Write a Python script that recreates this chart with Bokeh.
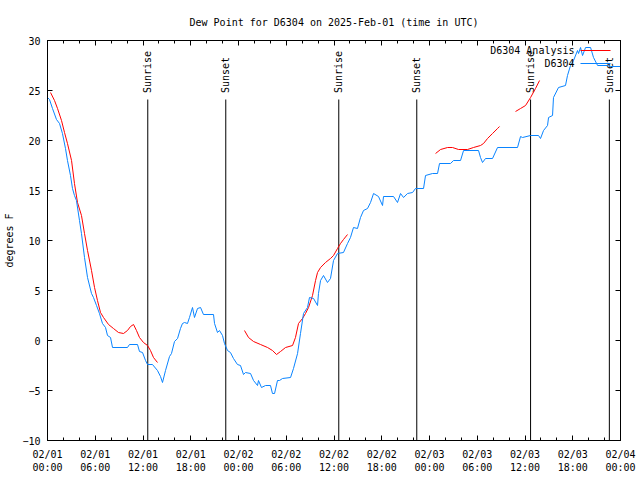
import numpy as np
from bokeh.plotting import figure
from bokeh.models import (Range1d, LinearAxis, FixedTicker, CustomJSTickFormatter,
                          Label, Arrow)
from bokeh.core.properties import value
from bokeh.embed import file_html
from bokeh.resources import INLINE

FONT = "DejaVu Sans Mono"
FS = "10px"

# ---- data (hours since 2025-02-01 00:00 UTC, degrees F) ----
obs_hours = [0.0, 0.25, 0.63, 1.13, 1.51, 1.88, 2.26, 2.51, 2.89, 3.14, 3.39, 3.64, 4.02, 4.27,
             4.65, 5.03, 5.53, 5.78, 6.16, 6.53, 6.91, 7.29, 7.54, 7.92, 8.17, 10.05, 10.30,
             11.31, 11.56, 11.94, 12.32, 12.57, 13.19, 13.82, 14.20, 14.45, 14.83, 15.33,
             15.58, 15.96, 16.34, 16.71, 16.96, 17.22, 17.59, 17.84, 18.22, 18.47, 18.85,
             19.23, 19.60, 20.86, 20.99, 21.36, 21.61, 21.99, 22.24, 22.62, 22.99, 23.37,
             23.87, 24.25, 24.63, 24.88, 25.51, 25.89, 26.39, 26.51, 26.89, 27.40, 28.02,
             28.27, 28.53, 28.90, 29.15, 29.53, 30.54, 30.91, 31.42, 31.79, 32.17, 32.67,
             32.92, 33.43, 33.93, 34.05, 34.31, 34.68, 35.18, 35.56, 35.94, 36.44, 37.19,
             37.70, 38.07, 38.45, 38.95, 39.33, 39.71, 40.21, 40.59, 40.97, 41.59, 42.10,
             42.22, 43.48, 43.98, 44.36, 44.74, 45.24, 45.87, 46.24, 47.25, 47.50, 48.38,
             49.01, 49.26, 50.64, 51.02, 51.90, 52.28, 54.16, 54.41, 54.66, 55.04, 55.92,
             56.55, 59.06, 59.44, 59.69, 60.70, 61.70, 61.95, 62.33, 62.83, 62.96, 63.46,
             63.58, 64.21, 65.09, 65.34, 65.72, 66.10, 66.60, 66.73, 66.98, 67.23, 67.61,
             68.24, 68.61, 69.12, 70.37, 70.75, 72.0]
obs_dewpt = [24.3, 24.1, 23.2, 22.1, 21.7, 20.7, 19.2, 18.0, 16.5, 15.2, 14.5, 14.0, 12.0, 10.7,
             8.3, 6.3, 4.7, 4.3, 3.5, 2.7, 1.7, 1.3, 0.5, 0.3, -0.7, -0.7, -0.4,
             -0.4, -1.1, -1.2, -2.0, -2.4, -2.4, -3.0, -3.6, -4.2, -3.0, -1.6,
             -1.3, -0.1, 0.2, 1.2, 1.7, 1.8, 1.7, 2.3, 3.3, 2.3, 3.2,
             3.3, 2.6, 2.6, 1.7, 0.8, 1.0, 0.5, -0.3, -1.0, -1.2, -1.8,
             -2.4, -2.5, -3.4, -3.2, -3.3, -4.0, -4.5, -4.0, -4.7, -4.5, -4.5,
             -5.3, -5.3, -4.0, -4.0, -3.8, -3.7, -2.8, -1.3, 0.7, 2.7, 3.3,
             4.3, 4.2, 3.5, 4.7, 6.0, 6.5, 5.8, 6.2, 8.0, 8.7, 8.8,
             9.7, 10.3, 11.3, 11.2, 12.3, 13.0, 13.2, 13.8, 14.7, 14.4, 13.5,
             14.4, 14.4, 13.8, 14.7, 14.3, 14.7, 14.8, 15.2, 15.2, 16.5, 16.7,
             16.7, 17.7, 17.7, 18.0, 18.0, 19.0, 19.0, 18.3, 17.8, 18.2, 18.2,
             19.3, 19.3, 20.4, 20.3, 20.5, 20.5, 20.2, 21.0, 21.5, 22.3, 22.5,
             24.3, 25.3, 25.5, 26.5, 27.5, 28.0, 29.0, 28.7, 29.3, 28.5, 29.3,
             29.3, 28.3, 27.5, 27.5, 27.4, 27.4]

nan = float("nan")
ana_hours = [0.38, 0.88, 1.26, 1.76, 2.14, 2.51, 3.02, 3.39, 3.77, 4.27, 4.65, 5.03, 5.53, 5.91,
             6.28, 6.66, 7.04, 7.67, 8.29, 8.92, 9.55, 10.05, 10.43, 10.81, 11.18, 11.56,
             12.06, 12.57, 12.94, 13.32, 13.82, nan,
             24.75, 25.26, 25.89, 26.77, 27.65, 28.27, 28.78, 29.28, 29.91, 30.79, 31.16,
             31.54, 32.04, 32.42, 32.80, 33.30, 33.68, 33.93, 34.31, 34.93, 35.56, 35.94,
             36.44, 36.82, 37.19, 37.70, nan,
             48.76, 49.39, 50.27, 50.89, 51.65, 52.78, 53.53, 54.41, 54.79, 55.29, 55.92,
             56.55, 56.80, nan,
             58.81, 59.44, 60.07, 60.70, 61.32, 61.83]
ana_dewpt = [24.8, 24.0, 23.2, 22.0, 20.8, 19.7, 18.0, 15.7, 13.8, 12.5, 10.7, 9.0, 7.0, 5.3,
             4.0, 2.8, 2.3, 1.6, 1.2, 0.8, 0.7, 1.0, 1.4, 1.6, 1.0, 0.3,
             -0.2, -0.5, -1.0, -1.7, -2.2, nan,
             1.0, 0.3, -0.1, -0.4, -0.7, -1.0, -1.4, -1.1, -0.7, -0.5, 0.3,
             1.7, 2.2, 2.7, 3.3, 4.5, 6.0, 6.8, 7.3, 7.8, 8.2, 8.5,
             9.2, 9.7, 10.1, 10.6, nan,
             18.7, 19.1, 19.3, 19.3, 19.1, 19.1, 19.3, 19.5, 19.7, 20.2, 20.7,
             21.2, 21.4, nan,
             22.9, 23.2, 23.5, 24.3, 25.2, 26.0]

sun_hours = [12.6, 22.4, 36.6, 46.4, 60.7, 70.6]
sun_labels = ["Sunrise", "Sunset", "Sunrise", "Sunset", "Sunrise", "Sunset"]

x_ticks = [0, 6, 12, 18, 24, 30, 36, 42, 48, 54, 60, 66, 72]
x_minor_ticks = list(range(0, 73, 2))
x_tick_labels = ["02/01\n00:00", "02/01\n06:00", "02/01\n12:00", "02/01\n18:00",
                 "02/02\n00:00", "02/02\n06:00", "02/02\n12:00", "02/02\n18:00",
                 "02/03\n00:00", "02/03\n06:00", "02/03\n12:00", "02/03\n18:00",
                 "02/04\n00:00"]
y_ticks = [-10, -5, 0, 5, 10, 15, 20, 25, 30]

series_names = ["D6304 Analysis", "D6304"]
RED = "#ff0000"
BLUE = "#0a84ff"

p = figure(width=640, height=480, output_backend="svg", toolbar_location=None,
           x_range=Range1d(0, 72), y_range=Range1d(-10, 30),
           min_border_left=47, min_border_right=20, min_border_top=40, min_border_bottom=40,
           title="Dew Point for D6304 on 2025-Feb-01 (time in UTC)")
p.background_fill_color = "white"
p.border_fill_color = "white"
p.outline_line_color = "black"
p.grid.visible = False

p.title.align = "center"
p.title.text_font = FONT
p.title.text_font_size = FS
p.title.text_font_style = "normal"
p.title.text_color = "black"
p.title.standoff = 26


def style_axis(ax, labels=True):
    ax.axis_line_color = "black"
    ax.major_tick_line_color = "black"
    ax.minor_tick_line_color = "black"
    ax.major_tick_in = 5
    ax.major_tick_out = 0
    ax.minor_tick_in = 3
    ax.minor_tick_out = 0
    ax.major_label_text_font = FONT
    ax.major_label_text_font_size = FS
    ax.major_label_text_color = "black"
    if not labels:
        ax.formatter = CustomJSTickFormatter(code="return ''")


xt = FixedTicker(ticks=x_ticks, minor_ticks=x_minor_ticks)
yt = FixedTicker(ticks=y_ticks, minor_ticks=[])

xa = p.xaxis[0]
xa.ticker = xt
xa.major_label_overrides = {t: l for t, l in zip(x_ticks, x_tick_labels)}
style_axis(xa)
xa.major_label_standoff = 8

ya = p.yaxis[0]
ya.ticker = yt
style_axis(ya)
ya.major_label_standoff = 7
ya.axis_label = "degrees F"
ya.axis_label_text_font = FONT
ya.axis_label_text_font_size = FS
ya.axis_label_text_font_style = "normal"
ya.axis_label_text_color = "black"
ya.axis_label_standoff = 4

top = LinearAxis(ticker=FixedTicker(ticks=x_ticks, minor_ticks=x_minor_ticks))
style_axis(top, labels=False)
p.add_layout(top, "above")
right = LinearAxis(ticker=FixedTicker(ticks=y_ticks, minor_ticks=[]))
style_axis(right, labels=False)
p.add_layout(right, "right")

# sunrise / sunset markers
n = len(sun_hours)
p.segment(x0=sun_hours, y0=[24.1] * n, x1=sun_hours, y1=[-10] * n,
          line_color="black", line_width=1)
p.text(x=sun_hours, y=[24.75] * n, text=sun_labels, angle=np.pi / 2,
       text_align="left", text_baseline="middle",
       text_font=value(FONT), text_font_size=FS, text_color="black")

# series
p.line(ana_hours, ana_dewpt, line_color=RED, line_width=1)
p.line(obs_hours, obs_dewpt, line_color=BLUE, line_width=1)

# gnuplot-style key (text then sample line), top right
for i, (name, col) in enumerate(zip(series_names, [RED, BLUE])):
    ys = 390 - 13 * i
    p.add_layout(Label(x=527, y=ys, x_units="screen", y_units="screen", text=name,
                       text_align="right", text_baseline="middle",
                       text_font=FONT, text_font_size=FS, text_color="black"))
    p.add_layout(Arrow(x_start=533, y_start=ys, x_end=563, y_end=ys,
                       start_units="screen", end_units="screen", end=None, start=None,
                       line_color=col, line_width=1))

open("out.html", "w").write(file_html(p, INLINE))
